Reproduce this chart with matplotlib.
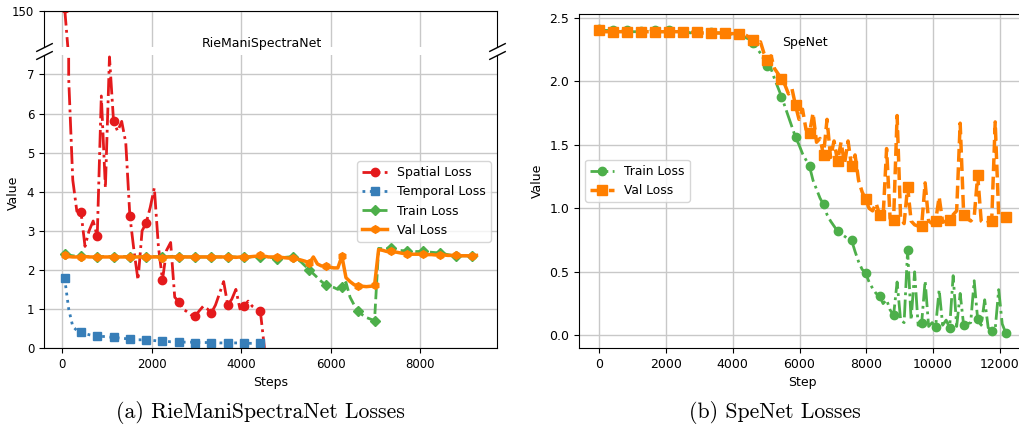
import numpy as np
import matplotlib
matplotlib.use("Agg")
import matplotlib.pyplot as plt

plt.rcParams['font.size'] = 9

# ---- (a) RieManiSpectraNet: logged every 91 steps starting at step 60 ----
steps_a = np.arange(60, 60 + 91 * 102, 91)

spatial_loss = [160, 6.9, 4.3, 3.5, 3.49, 2.6, 3.0, 3.25, 2.86, 6.45,
                4.1, 7.45, 5.8, 5.55, 5.8, 5.25, 3.38, 2.5, 1.74, 3.0,
                3.2, 3.6, 4.1, 2.6, 1.74, 2.5, 2.7, 1.3, 1.19, 1.0,
                0.93, 0.85, 0.81, 0.95, 1.07, 1.0, 0.9, 1.1, 1.4, 1.7,
                1.1, 1.25, 1.5, 1.0, 1.07, 1.2, 1.07, 1.0, 0.94, 0.0]

temporal_loss = [1.79, 1.0, 0.55, 0.45, 0.40, 0.37, 0.34, 0.32, 0.31, 0.30,
                 0.29, 0.28, 0.27, 0.26, 0.25, 0.24, 0.22, 0.22, 0.21, 0.21,
                 0.20, 0.20, 0.19, 0.18, 0.17, 0.17, 0.16, 0.16, 0.15, 0.15,
                 0.15, 0.15, 0.14, 0.14, 0.14, 0.14, 0.14, 0.14, 0.13, 0.13,
                 0.13, 0.13, 0.13, 0.13, 0.13, 0.12, 0.12, 0.12, 0.12]

train_a = [2.41, 2.38, 2.36, 2.35, 2.35, 2.34, 2.34, 2.34, 2.34, 2.34,
           2.34, 2.34, 2.34, 2.34, 2.34, 2.34, 2.34, 2.34, 2.34, 2.34,
           2.34, 2.34, 2.34, 2.34, 2.34, 2.34, 2.34, 2.34, 2.34, 2.34,
           2.33, 2.33, 2.33, 2.33, 2.33, 2.33, 2.33, 2.33, 2.33, 2.33,
           2.33, 2.33, 2.33, 2.33, 2.33, 2.33, 2.33, 2.33, 2.33, 2.33,
           2.32, 2.31, 2.29, 2.30, 2.32, 2.33,
           2.33, 2.28, 2.20, 2.10, 2.00, 1.90, 1.80, 1.70,
           1.62, 1.58, 1.55, 1.50, 1.56, 1.68, 1.30, 1.10,
           0.95, 0.85, 0.78, 0.74, 0.70, 2.55, 2.54, 2.55,
           2.57, 2.52, 2.50, 2.49, 2.49, 2.48, 2.47, 2.47,
           2.47, 2.46, 2.45, 2.44, 2.43, 2.41, 2.39, 2.37,
           2.36, 2.36, 2.36, 2.36, 2.36, 2.36]

val_a = [2.38, 2.34, 2.33, 2.33, 2.33, 2.34, 2.33, 2.33, 2.33, 2.33,
         2.33, 2.33, 2.33, 2.33, 2.33, 2.33, 2.33, 2.33, 2.33, 2.33,
         2.33, 2.33, 2.33, 2.33, 2.31, 2.33, 2.33, 2.33, 2.33, 2.33,
         2.33, 2.33, 2.33, 2.33, 2.33, 2.33, 2.33, 2.33, 2.33, 2.33,
         2.33, 2.33, 2.32, 2.33, 2.33, 2.33, 2.34, 2.35,
         2.38, 2.35, 2.33, 2.33, 2.33, 2.32, 2.31, 2.30,
         2.30, 2.28, 2.25, 2.22, 2.17, 2.33, 2.15, 2.10,
         2.09, 2.07, 2.05, 2.05, 2.35, 1.80, 1.70, 1.62,
         1.58, 1.58, 1.57, 1.58, 1.60, 2.52, 2.50, 2.47,
         2.49, 2.46, 2.44, 2.42, 2.41, 2.40, 2.40, 2.40,
         2.40, 2.39, 2.39, 2.38, 2.38, 2.38, 2.37, 2.37,
         2.37, 2.36, 2.36, 2.36, 2.36, 2.37]

# ---- (b) SpeNet: logged every 105 steps ----
steps_b = np.arange(0, 12181, 105)

train_b = [2.41, 2.40, 2.40, 2.40, 2.40, 2.40, 2.39, 2.40, 2.40, 2.39,
           2.39, 2.39, 2.395, 2.39, 2.39, 2.40, 2.40, 2.39, 2.39, 2.39,
           2.40, 2.39, 2.39, 2.39, 2.39, 2.39, 2.38, 2.39, 2.39, 2.38,
           2.38, 2.385, 2.385, 2.38, 2.38, 2.38, 2.38, 2.375, 2.37, 2.37,
           2.37, 2.36, 2.34, 2.33, 2.30, 2.26, 2.22, 2.17, 2.12, 2.10,
           2.02, 1.95, 1.88, 1.80, 1.72, 1.64, 1.56, 1.50, 1.43, 1.38,
           1.33, 1.22, 1.15, 1.08, 1.03, 0.95, 0.90, 0.86, 0.82, 0.80,
           0.78, 0.76, 0.75, 0.66, 0.58, 0.52, 0.49, 0.42, 0.37, 0.33,
           0.31, 0.25, 0.28, 0.20, 0.16, 0.42, 0.12, 0.10, 0.67, 0.12,
           0.50, 0.08, 0.094, 0.43, 0.07, 0.10, 0.068, 0.36, 0.08, 0.12,
           0.06, 0.47, 0.07, 0.33, 0.078, 0.09, 0.10, 0.43, 0.126, 0.08,
           0.28, 0.06, 0.034, 0.05, 0.36, 0.09, 0.02]

val_b = [2.40, 2.39, 2.39, 2.39, 2.39, 2.39, 2.39, 2.39, 2.39, 2.39,
         2.39, 2.39, 2.39, 2.39, 2.39, 2.39, 2.39, 2.39, 2.39, 2.39,
         2.39, 2.39, 2.39, 2.39, 2.39, 2.385, 2.385, 2.385, 2.385, 2.38,
         2.38, 2.38, 2.38, 2.38, 2.38, 2.38, 2.38, 2.375, 2.375, 2.375,
         2.375, 2.37, 2.36, 2.34, 2.325, 2.29, 2.31, 2.22, 2.17, 2.20,
         2.10, 2.06, 2.015, 1.97, 1.90, 1.94, 1.81, 1.70, 1.78, 1.62,
         1.59, 1.75, 1.52, 1.55, 1.42, 1.70, 1.40, 1.53, 1.37, 1.52,
         1.35, 1.53, 1.33, 1.42, 1.22, 1.13, 1.07, 1.00, 0.98, 1.04,
         0.95, 0.93, 1.47, 0.92, 0.91, 1.73, 0.92, 0.88, 1.17, 0.90,
         0.87, 0.86, 0.86, 1.20, 0.90, 0.88, 0.90, 1.09, 0.89, 0.90,
         0.91, 0.95, 0.98, 1.67, 0.95, 0.92, 0.90, 0.93, 1.26, 0.90,
         0.88, 0.89, 0.90, 1.68, 0.94, 0.92, 0.93]

RED, BLUE, GREEN, ORANGE = '#e41a1c', '#377eb8', '#4daf4a', '#ff7f00'

fig = plt.figure(figsize=(10.19, 4.33), dpi=100)

# broken y axis for panel (a)
ax_top = fig.add_axes([0.0432, 0.8921, 0.4446, 0.0824])
ax_bot = fig.add_axes([0.0432, 0.1963, 0.4446, 0.6768], sharex=ax_top)

for ax in (ax_top, ax_bot):
    ax.plot(steps_a[:len(spatial_loss)], spatial_loss, color=RED, ls='-.', lw=2,
            marker='o', ms=6, markevery=4, label='Spatial Loss')
    ax.plot(steps_a[:len(temporal_loss)], temporal_loss, color=BLUE, ls=':', lw=2,
            marker='s', ms=6, markevery=4, label='Temporal Loss')
    ax.plot(steps_a, train_a, color=GREEN, ls='--', lw=2,
            marker='D', ms=5.5, markevery=4, label='Train Loss')
    ax.plot(steps_a, val_a, color=ORANGE, ls='-', lw=2.5,
            marker='h', ms=5.5, markevery=4, label='Val Loss')
    ax.grid(True, color='#c8c8c8', lw=1)
    ax.set_axisbelow(True)

ax_top.set_ylim(40, 150)
ax_top.set_yticks([150])
ax_bot.set_ylim(0, 7.5)
ax_bot.set_yticks(range(0, 8))
ax_top.spines['bottom'].set_visible(False)
ax_bot.spines['top'].set_visible(False)
ax_top.tick_params(axis='x', bottom=False, labelbottom=False)

d = .5
kw = dict(marker=[(-1, -d), (1, d)], markersize=12, linestyle='none',
          color='k', mec='k', mew=1, clip_on=False)
ax_top.plot([0, 1], [0, 0], transform=ax_top.transAxes, **kw)
ax_bot.plot([0, 1], [1, 1], transform=ax_bot.transAxes, **kw)

ax_bot.set_xlabel('Steps')
ax_bot.set_ylabel('Value')
ax_bot.yaxis.set_label_coords(-0.053, 0.53)
ax_bot.legend(loc='center right', fontsize=9)
fig.text(262 / 1019, 1 - 43 / 433, 'RieManiSpectraNet', ha='center', va='center', fontsize=9)
for ax in (ax_top, ax_bot):
    ax.tick_params(labelsize=8.5)

# panel (b)
ax_b = fig.add_axes([0.5682, 0.1963, 0.4387, 0.7714])
ax_b.plot(steps_b, train_b, color=GREEN, ls='-.', lw=2,
          marker='o', ms=6, markevery=4, label='Train Loss')
ax_b.plot(steps_b, val_b, color=ORANGE, ls='--', lw=2.5,
          marker='s', ms=6.5, markevery=4, label='Val Loss')
ax_b.grid(True, color='#c8c8c8', lw=1)
ax_b.set_axisbelow(True)
ax_b.set_xlabel('Step')
ax_b.set_ylabel('Value')
ax_b.legend(loc='center left', fontsize=8.8)
ax_b.text(0.505, 0.915, 'SpeNet', transform=ax_b.transAxes, ha='center', va='center', fontsize=9)
ax_b.tick_params(labelsize=9)

# captions
fig.text(260 / 1019, 1 - 412 / 433, '(a) RieManiSpectraNet Losses',
         family='cmr10', fontsize=15.7, ha='center', va='center')
fig.text(775 / 1019, 1 - 412 / 433, '(b) SpeNet Losses',
         family='cmr10', fontsize=15.7, ha='center', va='center')

fig.savefig('out.png', dpi=100)
